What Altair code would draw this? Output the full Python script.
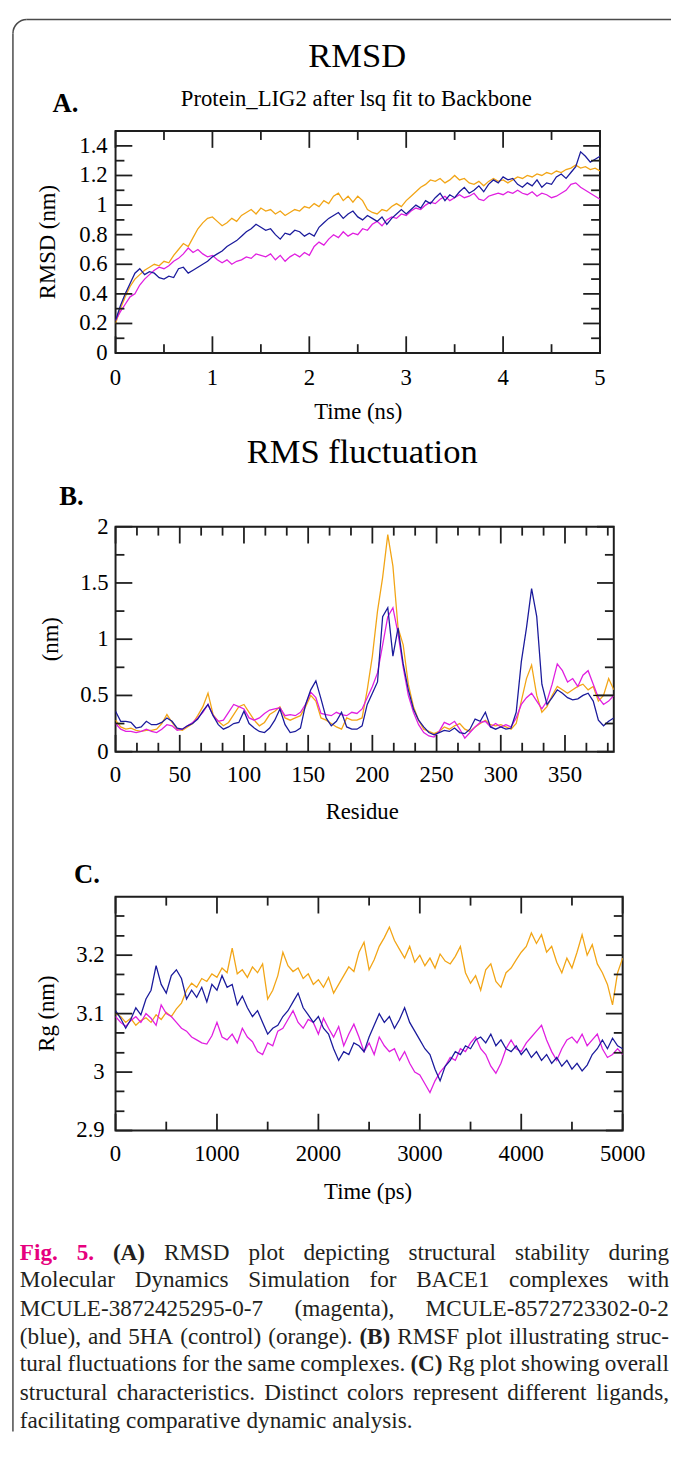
import altair as alt
import pandas as pd

SERIF = "Liberation Serif"
INK = "#1e1e1e"
BORDER = "#4a4a4a"
TEXT = "#231f20"
MAGENTA_TXT = "#E6007E"

SERIES = ["5HA (control)", "MCULE-3872425295-0-7", "MCULE-8572723302-0-2"]
COLORS = ["#F2A516", "#E01FE0", "#1B1B9C"]

# ---------------- Panel A: RMSD (nm) vs time (ns) ----------------
RMSD_TIME = [round(i * 0.05, 2) for i in range(101)]
RMSD_ORANGE = [0.20, 0.30, 0.38, 0.45, 0.50, 0.53, 0.56, 0.58, 0.60, 0.59,
               0.62, 0.61, 0.66, 0.70, 0.74, 0.72, 0.78, 0.84, 0.88, 0.91,
               0.92, 0.89, 0.86, 0.88, 0.91, 0.89, 0.93, 0.95, 0.97, 0.94,
               0.98, 0.96, 0.97, 0.94, 0.96, 0.93, 0.95, 0.97, 0.96, 0.99,
               0.98, 1.01, 0.99, 1.03, 1.01, 1.06, 1.08, 1.03, 1.06, 1.02,
               1.06, 1.03, 0.97, 0.95, 0.94, 0.97, 0.96, 0.99, 1.01, 0.99,
               1.03, 1.06, 1.09, 1.12, 1.14, 1.17, 1.16, 1.18, 1.15, 1.17,
               1.20, 1.17, 1.18, 1.15, 1.14, 1.16, 1.13, 1.16, 1.18, 1.16,
               1.17, 1.15, 1.17, 1.19, 1.18, 1.20, 1.19, 1.21, 1.20, 1.22,
               1.21, 1.23, 1.22, 1.24, 1.25, 1.27, 1.25, 1.26, 1.24, 1.25,
               1.23]
RMSD_BLUE = [0.22, 0.32, 0.40, 0.47, 0.54, 0.57, 0.53, 0.55, 0.54, 0.51,
             0.50, 0.52, 0.51, 0.57, 0.58, 0.54, 0.56, 0.58, 0.60, 0.62,
             0.65, 0.67, 0.69, 0.72, 0.74, 0.76, 0.79, 0.82, 0.84, 0.87,
             0.85, 0.83, 0.84, 0.80, 0.77, 0.81, 0.80, 0.83, 0.82, 0.79,
             0.81, 0.79, 0.85, 0.88, 0.91, 0.93, 0.95, 0.91, 0.94, 0.96,
             0.92, 0.90, 0.93, 0.91, 0.89, 0.92, 0.87, 0.91, 0.94, 0.97,
             0.94, 0.97, 1.00, 0.98, 1.03, 1.01, 1.05, 1.08, 1.03, 1.07,
             1.05, 1.09, 1.12, 1.08, 1.10, 1.13, 1.09, 1.14, 1.17, 1.15,
             1.19, 1.17, 1.18, 1.14, 1.12, 1.15, 1.13, 1.17, 1.12, 1.15,
             1.14, 1.19, 1.21, 1.18, 1.22, 1.26, 1.36, 1.33, 1.29, 1.31,
             1.33]
RMSD_MAGENTA = [0.22, 0.28, 0.33, 0.38, 0.40, 0.46, 0.50, 0.53, 0.56, 0.58,
                0.57, 0.59, 0.62, 0.64, 0.67, 0.71, 0.68, 0.70, 0.67, 0.65,
                0.66, 0.63, 0.61, 0.63, 0.60, 0.62, 0.63, 0.65, 0.64, 0.67,
                0.66, 0.65, 0.67, 0.63, 0.66, 0.62, 0.65, 0.67, 0.65, 0.68,
                0.66, 0.72, 0.75, 0.73, 0.77, 0.80, 0.78, 0.82, 0.79, 0.81,
                0.80, 0.84, 0.83, 0.87, 0.89, 0.86, 0.90, 0.92, 0.91, 0.94,
                0.93, 0.96, 0.98, 0.97, 1.00, 1.02, 1.01, 1.04, 1.06, 1.03,
                1.05, 1.07, 1.05, 1.06, 1.08, 1.04, 1.03, 1.06, 1.07, 1.08,
                1.07, 1.09, 1.08, 1.10, 1.08, 1.07, 1.09, 1.06, 1.08, 1.07,
                1.05, 1.06, 1.08, 1.10, 1.14, 1.15, 1.12, 1.10, 1.08, 1.06,
                1.04]

# ---------------- Panel B: RMSF (nm) vs residue ----------------
RMSF_RES = list(range(0, 389, 4))
RMSF_ORANGE = [0.28, 0.22, 0.20, 0.21, 0.19, 0.18, 0.19, 0.19, 0.20, 0.25,
               0.33, 0.26, 0.20, 0.19, 0.22, 0.25, 0.32, 0.40, 0.52, 0.33,
               0.27, 0.23, 0.26, 0.33, 0.40, 0.42, 0.35, 0.28, 0.23, 0.26,
               0.33, 0.36, 0.40, 0.30, 0.28, 0.30, 0.32, 0.40, 0.50, 0.45,
               0.30, 0.28, 0.25, 0.22, 0.20, 0.30, 0.28, 0.28, 0.30, 0.55,
               0.85, 1.25, 1.55, 1.93, 1.65, 1.10, 0.95, 0.60, 0.40, 0.28,
               0.20, 0.18, 0.16, 0.18, 0.22, 0.20, 0.23, 0.25, 0.20, 0.18,
               0.22, 0.25, 0.28, 0.24, 0.23, 0.24, 0.22, 0.20, 0.25, 0.45,
               0.65, 0.77, 0.50, 0.35, 0.40, 0.50, 0.58, 0.55, 0.52, 0.55,
               0.58, 0.60, 0.55, 0.58, 0.45, 0.50, 0.65, 0.55]
RMSF_BLUE = [0.36, 0.27, 0.27, 0.26, 0.21, 0.22, 0.27, 0.24, 0.24, 0.26,
             0.30, 0.27, 0.21, 0.20, 0.23, 0.25, 0.29, 0.36, 0.42, 0.32,
             0.24, 0.20, 0.22, 0.25, 0.26, 0.36, 0.25, 0.21, 0.18, 0.17,
             0.21, 0.28, 0.38, 0.24, 0.17, 0.18, 0.21, 0.42, 0.55, 0.63,
             0.47, 0.30, 0.23, 0.27, 0.35, 0.22, 0.20, 0.20, 0.23, 0.42,
             0.52, 0.62, 1.20, 1.28, 0.85, 1.10, 0.78, 0.55, 0.38, 0.28,
             0.22, 0.17, 0.15, 0.17, 0.19, 0.18, 0.21, 0.17, 0.16, 0.20,
             0.29, 0.27, 0.35, 0.22, 0.20, 0.22, 0.20, 0.21, 0.35, 0.80,
             1.10, 1.45, 1.20, 0.60, 0.42, 0.48, 0.55, 0.52, 0.48, 0.46,
             0.47, 0.50, 0.52, 0.45, 0.28, 0.23, 0.27, 0.30]
RMSF_MAGENTA = [0.25, 0.20, 0.18, 0.18, 0.17, 0.18, 0.20, 0.18, 0.17, 0.20,
                0.24, 0.23, 0.19, 0.20, 0.23, 0.26, 0.30, 0.35, 0.42, 0.32,
                0.27, 0.28, 0.35, 0.42, 0.40, 0.38, 0.30, 0.28, 0.30, 0.34,
                0.37, 0.38, 0.39, 0.32, 0.33, 0.32, 0.35, 0.42, 0.53, 0.48,
                0.34, 0.33, 0.32, 0.35, 0.33, 0.32, 0.35, 0.34, 0.38, 0.48,
                0.58, 0.70, 0.95, 1.20, 1.28, 1.05, 0.75, 0.50, 0.35, 0.24,
                0.17, 0.14, 0.13, 0.18, 0.26, 0.24, 0.27, 0.20, 0.12, 0.17,
                0.22, 0.26, 0.27, 0.22, 0.25, 0.22, 0.24, 0.22, 0.30, 0.42,
                0.48, 0.52, 0.45, 0.38, 0.45, 0.60, 0.78, 0.72, 0.62, 0.65,
                0.58, 0.68, 0.72, 0.60, 0.48, 0.42, 0.45, 0.50]
RMSF_BLACK_RES = [372, 388]
RMSF_BLACK_VAL = [0.5, 0.5]

# ---------------- Panel C: Rg (nm) vs time (ps) ----------------
RG_TIME = list(range(0, 5001, 50))
RG_ORANGE = [3.100, 3.095, 3.085, 3.092, 3.080, 3.088, 3.093, 3.085, 3.098, 3.090,
             3.102, 3.095, 3.108, 3.118, 3.140, 3.152, 3.145, 3.160, 3.155, 3.168,
             3.162, 3.178, 3.170, 3.212, 3.168, 3.175, 3.162, 3.180, 3.170, 3.185,
             3.125, 3.140, 3.165, 3.205, 3.182, 3.172, 3.178, 3.160, 3.168, 3.150,
             3.158, 3.145, 3.162, 3.135, 3.150, 3.165, 3.180, 3.172, 3.205, 3.222,
             3.175, 3.192, 3.215, 3.230, 3.248, 3.225, 3.210, 3.195, 3.215, 3.188,
             3.200, 3.182, 3.195, 3.178, 3.202, 3.190, 3.185, 3.198, 3.215, 3.170,
             3.152, 3.165, 3.140, 3.175, 3.185, 3.155, 3.145, 3.170, 3.178, 3.192,
             3.205, 3.215, 3.238, 3.220, 3.235, 3.205, 3.215, 3.188, 3.170, 3.195,
             3.178, 3.205, 3.235, 3.200, 3.218, 3.185, 3.170, 3.150, 3.115, 3.170,
             3.195]
RG_BLUE = [3.105, 3.092, 3.075, 3.090, 3.110, 3.098, 3.125, 3.140, 3.182, 3.150,
           3.135, 3.165, 3.175, 3.160, 3.125, 3.140, 3.128, 3.145, 3.120, 3.150,
           3.140, 3.165, 3.145, 3.150, 3.115, 3.130, 3.110, 3.095, 3.105, 3.085,
           3.065, 3.075, 3.080, 3.095, 3.105, 3.120, 3.135, 3.110, 3.098, 3.085,
           3.095, 3.075, 3.065, 3.040, 3.020, 3.035, 3.030, 3.050, 3.045, 3.035,
           3.060, 3.080, 3.100, 3.085, 3.095, 3.075, 3.090, 3.110, 3.085, 3.070,
           3.055, 3.040, 3.030, 3.005, 2.985, 3.010, 3.020, 3.035, 3.030, 3.045,
           3.040, 3.055, 3.060, 3.050, 3.065, 3.045, 3.055, 3.040, 3.035, 3.045,
           3.030, 3.040, 3.025, 3.035, 3.020, 3.030, 3.015, 3.025, 3.010, 3.020,
           3.005, 3.015, 3.002, 3.012, 3.030, 3.040, 3.055, 3.040, 3.058, 3.045,
           3.040]
RG_MAGENTA = [3.095, 3.085, 3.078, 3.088, 3.095, 3.085, 3.100, 3.092, 3.080, 3.115,
              3.100, 3.095, 3.085, 3.075, 3.070, 3.060, 3.055, 3.050, 3.048, 3.062,
              3.085, 3.060, 3.055, 3.065, 3.050, 3.075, 3.060, 3.052, 3.035, 3.030,
              3.050, 3.045, 3.070, 3.075, 3.090, 3.105, 3.085, 3.075, 3.090, 3.085,
              3.065, 3.092, 3.075, 3.060, 3.078, 3.045, 3.065, 3.082, 3.060, 3.035,
              3.050, 3.030, 3.060, 3.045, 3.035, 3.040, 3.020, 3.035, 3.015, 3.000,
              2.995, 2.980, 2.965, 2.985, 3.000, 3.010, 3.025, 3.020, 3.040, 3.035,
              3.050, 3.060, 3.040, 3.030, 3.010, 2.998, 3.015, 3.040, 3.055, 3.040,
              3.035, 3.050, 3.060, 3.070, 3.080, 3.055, 3.035, 3.020, 3.040, 3.055,
              3.060, 3.050, 3.065, 3.045, 3.055, 3.065, 3.040, 3.025, 3.030, 3.040,
              3.030]

# ---------------- Axis tick values and labels ----------------
A_X_MAJOR = [0, 1, 2, 3, 4, 5]
A_X_LABELS = ["0", "1", "2", "3", "4", "5"]
A_X_MINOR = [0.5, 1.5, 2.5, 3.5, 4.5]
A_Y_MAJOR = [0, 0.2, 0.4, 0.6, 0.8, 1, 1.2, 1.4]
A_Y_LABELS = ["0", "0.2", "0.4", "0.6", "0.8", "1", "1.2", "1.4"]
A_Y_MINOR = [0.1, 0.3, 0.5, 0.7, 0.9, 1.1, 1.3]
B_X_MAJOR = [0, 50, 100, 150, 200, 250, 300, 350]
B_X_LABELS = ["0", "50", "100", "150", "200", "250", "300", "350"]
B_X_MINOR = [16.667, 33.333, 66.667, 83.333, 116.667, 133.333, 166.667, 183.333,
             216.667, 233.333, 266.667, 283.333, 316.667, 333.333, 366.667, 383.333]
B_Y_MAJOR = [0, 0.5, 1, 1.5, 2]
B_Y_LABELS = ["0", "0.5", "1", "1.5", "2"]
B_Y_MINOR = [0.25, 0.75, 1.25, 1.75]
C_X_MAJOR = [0, 1000, 2000, 3000, 4000, 5000]
C_X_LABELS = ["0", "1000", "2000", "3000", "4000", "5000"]
C_X_MINOR = [500, 1500, 2500, 3500, 4500]
C_Y_MAJOR = [2.9, 3, 3.1, 3.2]
C_Y_LABELS = ["2.9", "3", "3.1", "3.2"]
C_Y_MINOR = [2.933, 2.967, 3.033, 3.067, 3.133, 3.167, 3.233, 3.267]

# ---------------- Caption (words, style: r=regular, b=bold, m=bold magenta) ----------------
JUST = 677   # right edge (page px) the justified lines are spread to
CAPTION = [
    ([("Fig.", "m"), ("5.", "m"), ("(A)", "b"), ("RMSD", "r"), ("plot", "r"),
      ("depicting", "r"), ("structural", "r"), ("stability", "r"), ("during", "r")], JUST),
    ([(w, "r") for w in "Molecular Dynamics Simulation for BACE1 complexes with".split()], JUST),
    ([(w, "r") for w in ["MCULE-3872425295-0-7", "(magenta),", "MCULE-8572723302-0-2"]], JUST),
    ([(w, "r") for w in "(blue), and 5HA (control) (orange).".split()] + [("(B)", "b")]
     + [(w, "r") for w in "RMSF plot illustrating struc-".split()], JUST),
    ([(w, "r") for w in "tural fluctuations for the same complexes.".split()] + [("(C)", "b")]
     + [(w, "r") for w in "Rg plot showing overall".split()], JUST),
    ([(w, "r") for w in "structural characteristics. Distinct colors represent different ligands,".split()], JUST),
    ([(w, "r") for w in "facilitating comparative dynamic analysis.".split()], None),
]
CAPTION_BASELINES = [368, 396, 425, 453, 481, 510, 538]   # relative to panel C plot top

# Times New Roman advance widths (per 1000 em) used to lay the justified caption out
TNR = {" ": 250, "(": 333, ")": 333, ",": 250, "-": 333, ".": 250, "_": 500,
       "0": 500, "1": 500, "2": 500, "3": 500, "4": 500, "5": 500, "6": 500, "7": 500,
       "8": 500, "9": 500,
       "A": 722, "B": 667, "C": 667, "D": 722, "E": 611, "F": 556, "G": 722, "H": 722,
       "I": 333, "L": 611, "M": 889, "R": 667, "S": 556, "U": 722,
       "a": 444, "b": 500, "c": 444, "d": 500, "e": 444, "f": 333, "g": 500, "h": 500,
       "i": 278, "k": 500, "l": 278, "m": 778, "n": 500, "o": 500, "p": 500, "q": 500,
       "r": 333, "s": 389, "t": 278, "u": 500, "v": 500, "w": 722, "x": 500, "y": 500}
TNR_BOLD = {"F": 611, "i": 278, "g": 500, ".": 250, "5": 500, "(": 333, ")": 333,
            "A": 722, "B": 667, "C": 722}

ONE = pd.DataFrame({"k": [0]})
ORIGIN_X = 116   # page x of the plot areas' left edge
CS = 23.5        # caption font size


def long_df(x, vals_list):
    frames = [pd.DataFrame({"x": x, "y": vals, "s": name}) for name, vals in zip(SERIES, vals_list)]
    return pd.concat(frames, ignore_index=True)


def txt(text, x, y, size, weight="normal", align="center", baseline="alphabetic",
        color="black", angle=None):
    kw = dict(text=text, font=SERIF, fontSize=size, fontWeight=weight, align=align,
              baseline=baseline, color=color)
    if angle is not None:
        kw["angle"] = angle
    return alt.Chart(ONE).mark_text(**kw).encode(x=alt.value(x), y=alt.value(y))


def char_w(c, bold):
    table = TNR_BOLD if bold else TNR
    return table.get(c, TNR.get(c, 500)) * CS / 1000.0


def word_w(w, bold):
    return sum(char_w(c, bold) for c in w)


def caption_layers():
    out = []
    left = 19.0
    for (words, end), base in zip(CAPTION, CAPTION_BASELINES):
        widths = [word_w(w, st != "r") for w, st in words]
        if end is None:
            gap = 0.25 * CS
        else:
            gap = (end - left - sum(widths)) / (len(words) - 1)
        x = left
        for (w, st), wd in zip(words, widths):
            bold = st != "r"
            out.append(txt(w, x - ORIGIN_X, base, CS,
                           weight="bold" if bold else "normal", align="left",
                           color=MAGENTA_TXT if st == "m" else TEXT))
            x += wd + gap
    return out


def panel(df, xdom, ydom, w, h, xmaj, xlabs, xmin, ymaj, ylabs, ymin, xlab_y, ylab_x,
          extras, seg=None):
    xsc = alt.Scale(domain=xdom, nice=False, zero=False)
    ysc = alt.Scale(domain=ydom, nice=False, zero=False)
    lines = alt.Chart(df).mark_line(strokeWidth=1.3, clip=True).encode(
        x=alt.X("x:Q", scale=xsc, axis=None),
        y=alt.Y("y:Q", scale=ysc, axis=None),
        color=alt.Color("s:N", scale=alt.Scale(domain=SERIES, range=COLORS), legend=None),
    )
    layers = [lines]
    if seg is not None:
        layers.append(alt.Chart(seg).mark_line(color="black", strokeWidth=1.3).encode(
            x=alt.X("x:Q", scale=xsc, axis=None), y=alt.Y("y:Q", scale=ysc, axis=None)))
    MAJ, MIN = 17, 9
    for vals, L in ((xmaj, MAJ), (xmin, MIN)):
        d = pd.DataFrame({"v": vals})
        layers.append(alt.Chart(d).mark_rule(color=INK, strokeWidth=1.8).encode(
            x=alt.X("v:Q", scale=xsc, axis=None), y=alt.value(h), y2=alt.value(h - L)))
        layers.append(alt.Chart(d).mark_rule(color=INK, strokeWidth=1.8).encode(
            x=alt.X("v:Q", scale=xsc, axis=None), y=alt.value(0), y2=alt.value(L)))
    for vals, L in ((ymaj, MAJ), (ymin, MIN)):
        d = pd.DataFrame({"v": vals})
        layers.append(alt.Chart(d).mark_rule(color=INK, strokeWidth=1.8).encode(
            y=alt.Y("v:Q", scale=ysc, axis=None), x=alt.value(0), x2=alt.value(L)))
        layers.append(alt.Chart(d).mark_rule(color=INK, strokeWidth=1.8).encode(
            y=alt.Y("v:Q", scale=ysc, axis=None), x=alt.value(w), x2=alt.value(w - L)))
    # tick labels, positioned through the same scales
    layers.append(alt.Chart(pd.DataFrame({"v": xmaj, "lab": xlabs})).mark_text(
        font=SERIF, fontSize=23, align="center", baseline="alphabetic", color="black").encode(
        x=alt.X("v:Q", scale=xsc, axis=None), y=alt.value(xlab_y), text="lab:N"))
    layers.append(alt.Chart(pd.DataFrame({"v": ymaj, "lab": ylabs})).mark_text(
        font=SERIF, fontSize=23, align="right", baseline="middle", color="black").encode(
        y=alt.Y("v:Q", scale=ysc, axis=None), x=alt.value(ylab_x), text="lab:N"))
    layers += extras
    return alt.layer(*layers).properties(width=w, height=h)


# Invisible frame (relative to panel A's plot origin) that fixes the drawing's bounds,
# so that the page padding below places the plots exactly.
FRAME_X1, FRAME_X2, FRAME_Y1, FRAME_Y2 = -150, 620, -170, 1380

R = 14
TOP = -113   # card top edge, relative to panel A plot top
border = [
    alt.Chart(ONE).mark_rect(opacity=0).encode(
        x=alt.value(FRAME_X1), x2=alt.value(FRAME_X2),
        y=alt.value(FRAME_Y1), y2=alt.value(FRAME_Y2)),
    alt.Chart(ONE).mark_rule(color=BORDER, strokeWidth=1.5).encode(
        x=alt.value(-104 + R), x2=alt.value(563), y=alt.value(TOP)),
    alt.Chart(ONE).mark_rule(color=BORDER, strokeWidth=1.5).encode(
        x=alt.value(-104), y=alt.value(TOP + R), y2=alt.value(1318)),
    alt.Chart(ONE).mark_arc(color=BORDER, theta=4.712389, theta2=6.283185,
                            innerRadius=R - 0.75, outerRadius=R + 0.75).encode(
        x=alt.value(-104 + R), y=alt.value(TOP + R)),
]

A_W, A_H = 491, 225
panel_a = panel(
    long_df(RMSD_TIME, [RMSD_ORANGE, RMSD_MAGENTA, RMSD_BLUE]),
    [0, 5], [0, 1.5], A_W, A_H, A_X_MAJOR, A_X_LABELS, A_X_MINOR,
    A_Y_MAJOR, A_Y_LABELS, A_Y_MINOR, A_H + 32, -8,
    border + [
        txt("RMSD", 245, -65, 35),
        txt("A.", -64, -19, 27, weight="bold", align="left"),
        txt("Protein_LIG2 after lsq fit to Backbone", 244, -25, 23),
        txt("Time (ns)", 246, A_H + 67, 23),
        txt("RMSD (nm)", -68, A_H / 2, 23, angle=270, baseline="middle"),
    ])

B_W, B_H = 505, 228
panel_b = panel(
    long_df(RMSF_RES, [RMSF_ORANGE, RMSF_MAGENTA, RMSF_BLUE]),
    [0, 388], [0, 2], B_W, B_H, B_X_MAJOR, B_X_LABELS, B_X_MINOR,
    B_Y_MAJOR, B_Y_LABELS, B_Y_MINOR, B_H + 31, -7,
    [
        txt("RMS fluctuation", 250, -65, 35),
        txt("B.", -57, -22, 27, weight="bold", align="left"),
        txt("Residue", 250, B_H + 68, 23),
        txt("(nm)", -65, B_H / 2, 23, angle=270, baseline="middle"),
    ],
    seg=pd.DataFrame({"x": RMSF_BLACK_RES, "y": RMSF_BLACK_VAL}))

C_W, C_H = 514, 237
panel_c = panel(
    long_df(RG_TIME, [RG_ORANGE, RG_MAGENTA, RG_BLUE]),
    [0, 5000], [2.9, 3.3], C_W, C_H, C_X_MAJOR, C_X_LABELS, C_X_MINOR,
    C_Y_MAJOR, C_Y_LABELS, C_Y_MINOR, C_H + 31, -11,
    [
        txt("C.", -42, -14, 27, weight="bold", align="left"),
        txt("Time (ps)", 256, C_H + 69, 23),
        txt("Rg (nm)", -69, C_H / 2, 23, angle=270, baseline="middle"),
    ] + caption_layers())


def spacer(hgt):
    return alt.Chart(ONE).mark_point(opacity=0).properties(
        width=10, height=hgt, view=alt.ViewBackground(stroke="transparent"))


# The drawing starts at page (8, 19); plot A origin wanted at page (116, 133).
SVG_X0, SVG_Y0 = 8, 19
SVG_W, SVG_H = 671, 1437
PAD_L = (116 - SVG_X0) + FRAME_X1
PAD_T = (133 - SVG_Y0) + FRAME_Y1
PAD_R = SVG_W - PAD_L - (FRAME_X2 - FRAME_X1)
PAD_B = SVG_H - PAD_T - (FRAME_Y2 - FRAME_Y1)

chart = alt.vconcat(
    panel_a, spacer(176), panel_b, spacer(147), panel_c, spacing=0, bounds="flush"
).properties(
    padding={"left": PAD_L, "top": PAD_T, "right": PAD_R, "bottom": PAD_B},
    background="white",
).configure_view(
    stroke=INK, strokeWidth=2
)

chart.save("out.html", embed_options={"renderer": "svg", "actions": False})
